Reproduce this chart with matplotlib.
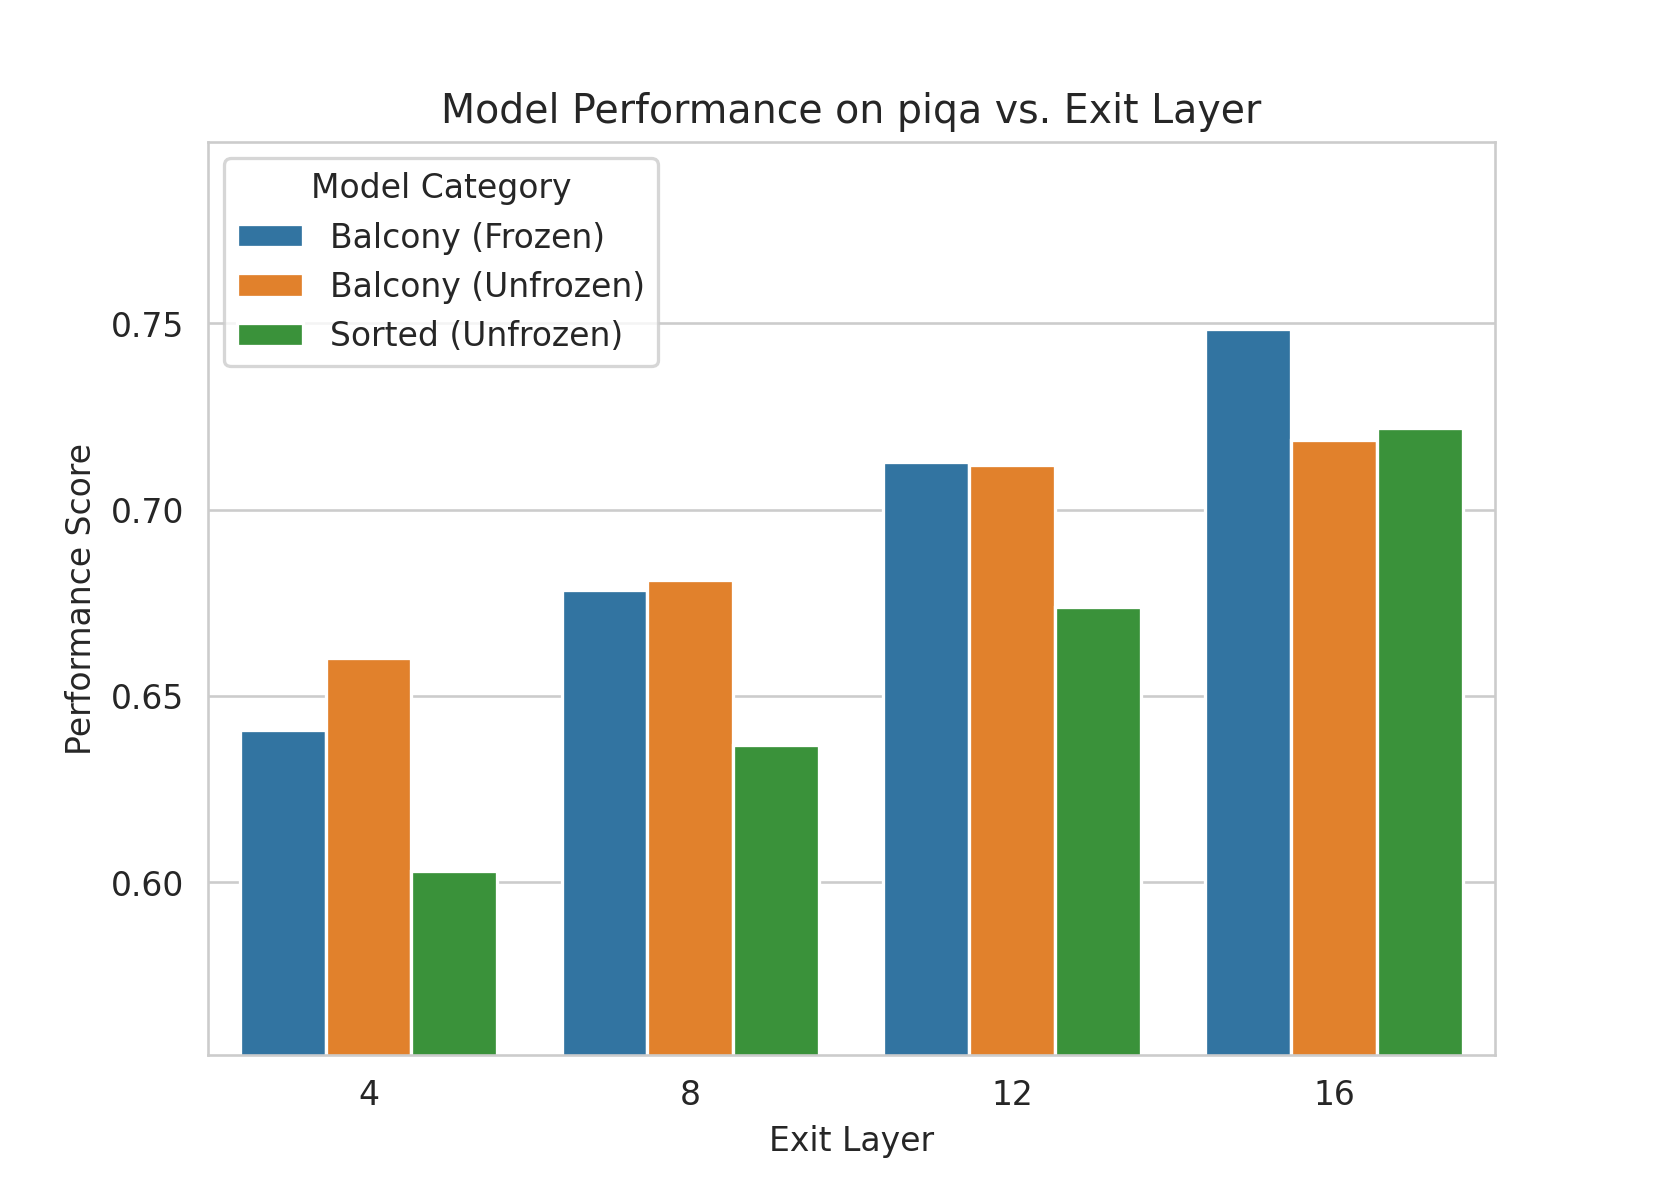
import matplotlib
matplotlib.use("Agg")
import matplotlib.pyplot as plt
import seaborn as sns
import pandas as pd

# data
exit_layers = [4, 8, 12, 16]
categories = ["Balcony (Frozen)", "Balcony (Unfrozen)", "Sorted (Unfrozen)"]
balcony_frozen = [0.6409, 0.6785, 0.7127, 0.7485]
balcony_unfrozen = [0.6602, 0.6810, 0.7121, 0.7186]
sorted_unfrozen = [0.6030, 0.6369, 0.6739, 0.7218]

series = [balcony_frozen, balcony_unfrozen, sorted_unfrozen]
rows = []
for cat, vals in zip(categories, series):
    for layer, v in zip(exit_layers, vals):
        rows.append({"Exit Layer": layer, "Performance Score": v, "Model Category": cat})
df = pd.DataFrame(rows)

sns.set_style("whitegrid")

fig, ax = plt.subplots(figsize=(7, 5))
sns.barplot(data=df, x="Exit Layer", y="Performance Score",
            hue="Model Category", hue_order=categories, ax=ax)

ax.set_ylim(0.5535, 0.7987)
ax.set_title("Model Performance on piqa vs. Exit Layer")
ax.set_xlabel("Exit Layer")
ax.set_ylabel("Performance Score")
ax.legend(title="Model Category", loc="upper left")

fig.savefig("out.png", dpi=237.3)
